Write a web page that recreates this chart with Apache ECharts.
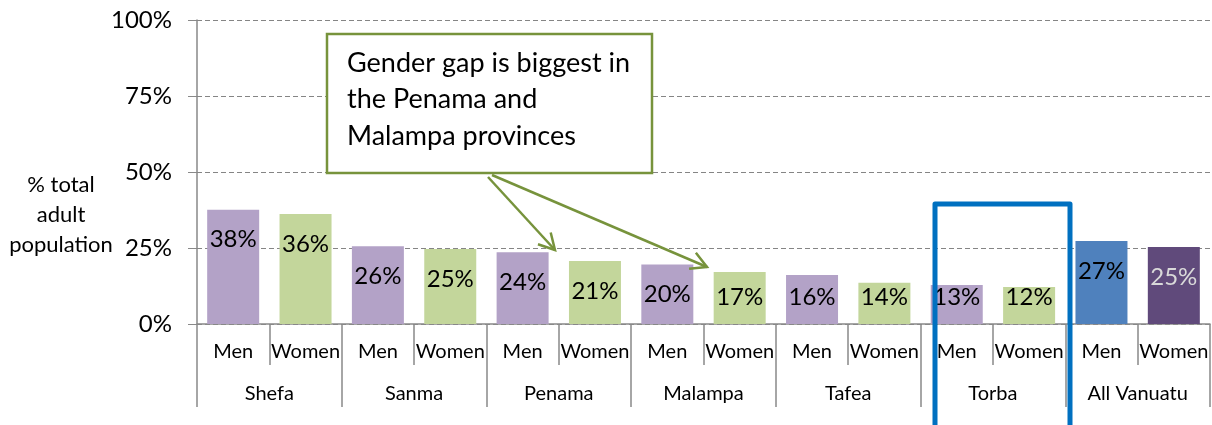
<!DOCTYPE html>
<html>
<head>
<meta charset="utf-8">
<script src="https://cdn.jsdelivr.net/npm/echarts@6/dist/echarts.min.js"></script>
<style>
  html, body { margin: 0; padding: 0; background: #fff; }
  #main { width: 1212px; height: 425px; }
</style>
</head>
<body>
<div id="main"></div>
<script>
// 数据
var provinces = ['Shefa', 'Sanma', 'Penama', 'Malampa', 'Tafea', 'Torba', 'All Vanuatu'];
var genders = ['Men', 'Women'];
var menValues = [37.6, 25.6, 23.6, 19.6, 16.1, 12.8, 27.3];
var womenValues = [36.2, 24.7, 20.7, 17.1, 13.6, 12.2, 25.3];
var yTicks = [0, 25, 50, 75, 100];

// 颜色
var menColor = '#b3a2c7', womenColor = '#c3d69b';
var allMenColor = '#4f81bd', allWomenColor = '#604a7b';
var gray = '#898989';
var green = '#77933c';
var font = 'Lato';

var chart = echarts.init(document.getElementById('main'));

// 组合两级类目
var cats = [];
var barData = [];
for (var i = 0; i < provinces.length; i++) {
    var isAll = (i == provinces.length - 1);
    for (var g = 0; g < genders.length; g++) {
        var v = g == 0 ? menValues[i] : womenValues[i];
        var color = g == 0 ? (isAll ? allMenColor : menColor) : (isAll ? allWomenColor : womenColor);
        var tall = v >= 18.5;//矮柱子标签放底部
        cats.push(provinces[i] + '|' + genders[g]);
        barData.push({
            value: v,
            itemStyle: { color: color },
            label: {
                position: tall ? 'insideTop' : 'insideBottom',
                distance: tall ? 18 : 15,
                color: (isAll && g == 1) ? '#d9d9d9' : '#000'
            }
        });
    }
}

// 箭头
function arrow(x1, y1, x2, y2) {
    var a = Math.atan2(y2 - y1, x2 - x1);
    var len = 18, spread = 0.5;
    var w1 = [x2 - len * Math.cos(a - spread), y2 - len * Math.sin(a - spread)];
    var w2 = [x2 - len * Math.cos(a + spread), y2 - len * Math.sin(a + spread)];
    return [
        { type: 'line', shape: { x1: x1, y1: y1, x2: x2, y2: y2 }, style: { stroke: green, lineWidth: 2.5 }, z: 100 },
        { type: 'polyline', shape: { points: [w1, [x2, y2], w2] }, style: { stroke: green, lineWidth: 2.5, fill: null }, z: 100 }
    ];
}

var graphics = [
    {
        type: 'text', x: 61, y: 170, z: 100,
        style: { text: '% total\nadult\npopulation', font: '22px ' + font, fill: '#000', align: 'center', lineHeight: 30 }
    },
    {
        type: 'rect', shape: { x: 327, y: 34, width: 325, height: 139 }, z: 90,
        style: { fill: '#fff', stroke: green, lineWidth: 2.5 }
    },
    {
        type: 'text', x: 347, y: 45, z: 100,
        style: { text: 'Gender gap is biggest in\nthe Penama and\nMalampa provinces', font: '27px ' + font, fill: '#000', lineHeight: 36.5 }
    },
    {
        type: 'polyline', z: 100,
        shape: { points: [[935, 430], [935, 204], [1070, 204], [1070, 430]] },
        style: { stroke: '#0070c0', lineWidth: 5, fill: null, lineJoin: 'round' }
    }
].concat(arrow(488, 177, 555, 250)).concat(arrow(492, 175, 707, 267));

var option = {
    animation: false,
    textStyle: { fontFamily: font },
    grid: { left: 197, right: 2, top: 20, bottom: 101 },
    xAxis: [
        {
            type: 'category',
            data: cats,
            position: 'bottom',
            axisLine: { show: true, lineStyle: { color: gray, width: 1.5 } },
            axisTick: { show: true, interval: 0, length: 41, lineStyle: { color: gray, width: 1.5 } },
            axisLabel: {
                interval: 0, margin: 18, fontSize: 20, color: '#000',
                formatter: function (v) { return v.split('|')[1]; }
            }
        },
        {
            type: 'category',
            data: provinces,
            position: 'bottom',
            axisLine: { show: false },
            axisTick: { show: true, interval: 0, length: 83, lineStyle: { color: gray, width: 1.5 } },
            axisLabel: { interval: 0, margin: 60, fontSize: 20, color: '#000' }
        }
    ],
    yAxis: {
        type: 'value',
        min: yTicks[0],
        max: yTicks[yTicks.length - 1],
        interval: 25,
        axisLine: { show: true, lineStyle: { color: gray, width: 1.5 } },
        axisTick: { show: true, length: 9, lineStyle: { color: gray } },
        axisLabel: { formatter: '{value}%', fontSize: 24, color: '#000', margin: 25 },
        splitLine: { lineStyle: { color: '#858585', type: [5, 3], width: 1 } }
    },
    series: [{
        type: 'bar',
        xAxisIndex: 0,
        barWidth: 52,
        data: barData,
        label: {
            show: true,
            fontSize: 24,
            formatter: function (p) { return Math.round(p.value) + '%'; }
        }
    }],
    graphic: graphics
};

chart.setOption(option);
</script>
</body>
</html>
